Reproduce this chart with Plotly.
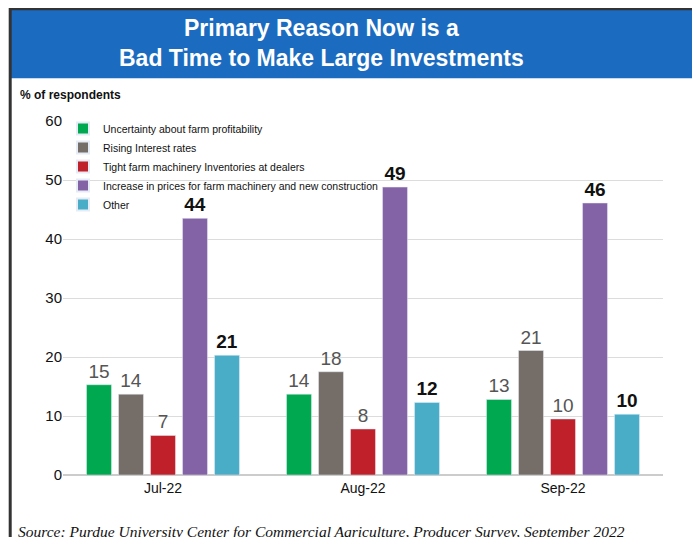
import plotly.graph_objects as go

months = ["Jul-22", "Aug-22", "Sep-22"]
series_names = [
    "Uncertainty about farm profitability",
    "Rising Interest rates",
    "Tight farm machinery Inventories at dealers",
    "Increase in prices for farm machinery and new construction",
    "Other",
]
uncertainty = [15.3, 13.7, 12.8]
interest = [13.7, 17.5, 21.1]
inventories = [6.7, 7.8, 9.5]
prices = [43.5, 48.8, 46.1]
other = [20.3, 12.3, 10.3]
labels = [
    ["15", "14", "13"],
    ["14", "18", "21"],
    ["7", "8", "10"],
    ["44", "49", "46"],
    ["21", "12", "10"],
]
colors = ["#00a850", "#756d68", "#c0202a", "#8462a6", "#4aadc8"]

fig = go.Figure()
for i, (name, vals) in enumerate(zip(series_names, [uncertainty, interest, inventories, prices, other])):
    bold = i >= 3
    fig.add_trace(go.Bar(
        x=months, y=vals, name=name, marker_color=colors[i],
        text=[f"<b>{t}</b>" if bold else t for t in labels[i]],
        textposition="outside", cliponaxis=False,
        textfont=dict(size=19, color="#111" if bold else "#555", family="Liberation Sans Narrow, Arial Narrow, Arial"),
    ))

fig.update_layout(
    width=700, height=537,
    paper_bgcolor="white", plot_bgcolor="white",
    margin=dict(l=55, r=45, t=113, b=70, autoexpand=False),
    barmode="group", bargap=0.2, bargroupgap=0.22,
    font=dict(family="Liberation Sans, Arial", color="#111"),
    legend=dict(orientation="h", x=0.0, y=1.02, xanchor="left", yanchor="top",
                entrywidth=275, tracegroupgap=0, itemsizing="constant",
                font=dict(size=10.5, family="Liberation Sans Narrow, Arial Narrow, Arial", color="#111"),
                bgcolor="rgba(0,0,0,0)"),
    yaxis=dict(range=[0, 60], dtick=10, showgrid=True, gridcolor="#dcdcdc",
               zeroline=True, zerolinecolor="#cccccc",
               tickfont=dict(size=15, family="Liberation Sans", color="#111"), ticks=""),
    xaxis=dict(tickfont=dict(size=14, family="Liberation Sans", color="#111"),
               showline=True, linecolor="#cccccc"),
    shapes=[
        dict(type="rect", xref="paper", yref="paper", x0=-0.09, x1=1.075, y0=1.121, y1=1.33,
             fillcolor="#1b6cc0", line_width=0, layer="below"),
        dict(type="rect", xref="paper", yref="paper", x0=-0.088, x1=1.072, y0=-0.192, y1=1.317,
             fillcolor="rgba(0,0,0,0)", line=dict(color="#333", width=3)),
    ],
    annotations=[
        dict(text="<b>Primary Reason Now is a<br>Bad Time to Make Large Investments</b>",
             xref="paper", yref="paper", x=0.43, y=1.22, yanchor="middle", showarrow=False,
             font=dict(size=23, color="white", family="Liberation Sans, Arial")),
        dict(text="<b>% of respondents</b>", xref="paper", yref="paper", x=-0.075, y=1.073,
             xanchor="left", yanchor="middle", showarrow=False, font=dict(size=12)),
        dict(text="<i>Source: Purdue University Center for Commercial Agriculture, Producer Survey, September 2022</i>",
             xref="paper", yref="paper", x=0.43, y=-0.16, yanchor="middle", showarrow=False,
             font=dict(size=15.5, family="Liberation Serif, Times New Roman", color="#111")),
    ],
)

fig.write_html("out.html")
